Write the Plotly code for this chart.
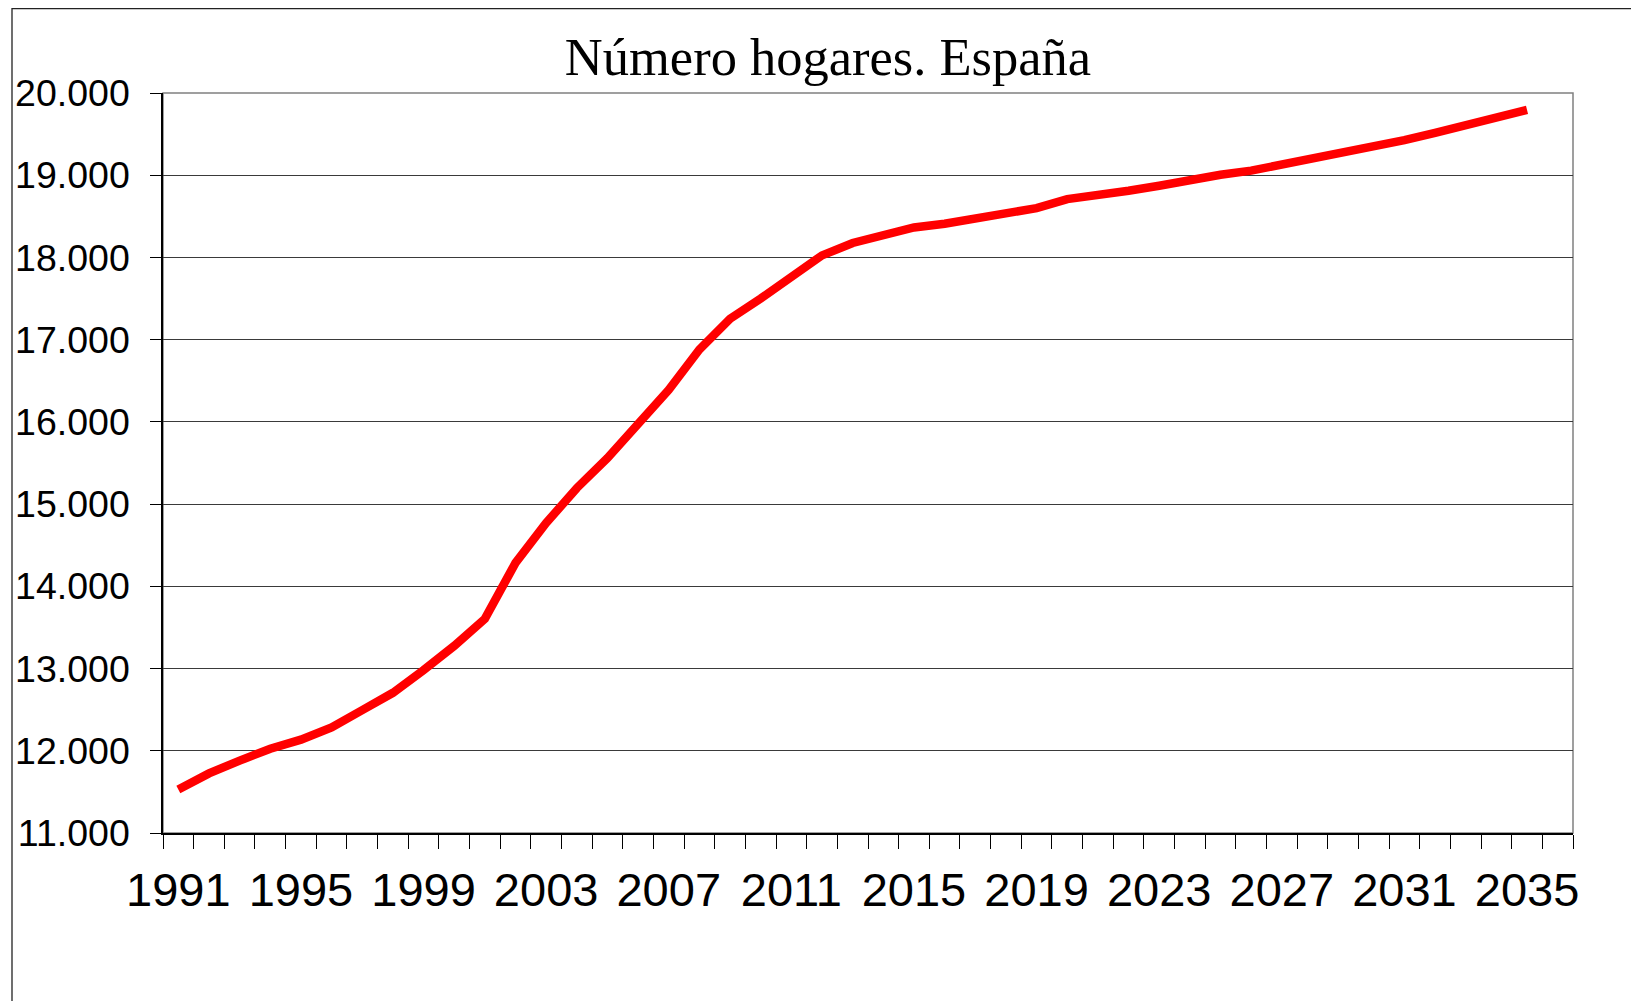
import plotly.graph_objects as go

# ---- data ----
years = list(range(1991, 2036))
hogares = [11530, 11725, 11880, 12025, 12135, 12285, 12495, 12705, 12980, 13275,
           13605, 14285, 14770, 15195, 15560, 15985, 16390, 16880, 17255, 17500,
           17755, 18025, 18176, 18280, 18365, 18410, 18471, 18527, 18600, 18710,
           18755, 18811, 18872, 18945, 19005, 19056, 19125, 19194, 19266, 19343,
           19427, 19516, 19605, 19698, 19794]
label_years = list(range(1991, 2036, 4))
label_text = [str(y) for y in label_years]
y_ticks = list(range(11000, 20001, 1000))
title_text = "Número hogares. España"

# one spare category after the last year, as in the original
x_lo = years[0] - 0.5
x_hi = years[-1] + 1.5
boundaries = [x_lo + k for k in range(int(x_hi - x_lo) + 1)]

# page has an 8px body margin -> figure is offset by 8px
OFF = 8
W, H = 1639 - OFF, 1001 - OFF
L = 163 - OFF
T = 93 - OFF
R = 1639 - 1573
B = 1001 - 833
pw, ph = W - L - R, H - T - B

fig = go.Figure()
fig.add_trace(go.Scatter(
    x=years, y=hogares, mode="lines",
    line=dict(color="#ff0000", width=8.5),
    hoverinfo="x+y", showlegend=False,
))

fig.update_layout(
    width=W, height=H,
    margin=dict(l=L, r=R, t=T, b=B, pad=0, autoexpand=False),
    paper_bgcolor="white", plot_bgcolor="white",
    separators=",.",
    title=dict(text=title_text, x=(828 - OFF) / W, xanchor="center",
               y=1 - (57 - OFF) / H, yanchor="middle", yref="container",
               font=dict(family="Liberation Serif, Times New Roman, serif",
                         size=52.5, color="black")),
    xaxis=dict(
        range=[x_lo, x_hi], tickmode="array", tickvals=label_years,
        ticktext=label_text, ticks="outside", ticklen=14,
        tickcolor="rgba(0,0,0,0)", ticklabelstandoff=1, automargin=False,
        showgrid=False, zeroline=False,
        showline=True, linecolor="black", linewidth=1.5,
        tickfont=dict(family="Liberation Sans, Arial, sans-serif",
                      size=47, color="black"),
        minor=dict(tickmode="array", tickvals=boundaries, ticks="outside",
                   ticklen=14, tickcolor="black", tickwidth=1, showgrid=False),
    ),
    yaxis=dict(
        range=[y_ticks[0], y_ticks[-1]], tickmode="array", tickvals=y_ticks,
        tickformat=",.0f", ticks="outside", ticklen=11, tickcolor="black",
        ticklabelstandoff=13, automargin=False,
        showgrid=True, gridcolor="#3a3a3a", gridwidth=1.3, zeroline=False,
        showline=True, linecolor="black", linewidth=1.5,
        tickfont=dict(family="Liberation Sans, Arial, sans-serif",
                      size=37.5, color="black"),
    ),
    shapes=[
        # plot area border (gray)
        dict(type="rect", xref="paper", yref="paper", x0=0, y0=0, x1=1, y1=1,
             line=dict(color="#808080", width=1.5), layer="below"),
        # outer chart frame (left + top visible)
        dict(type="rect", xref="paper", yref="paper",
             x0=(12 - OFF - L) / pw, x1=(W + 20 - L) / pw,
             y0=-(B + 20) / ph, y1=(H - B - (8 - OFF) - 0.5) / ph,
             line=dict(color="#222222", width=1.3), layer="below"),
    ],
)

fig.write_html("out.html")
